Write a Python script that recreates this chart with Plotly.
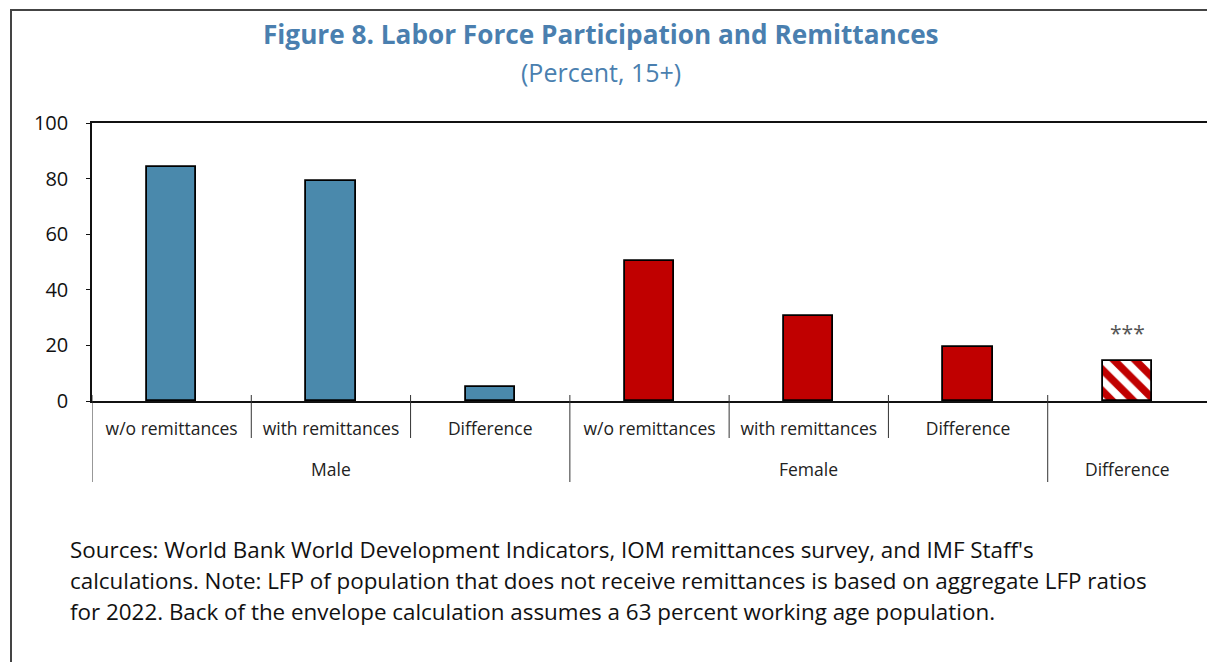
import plotly.graph_objects as go

# ---- data ----
groups = ["Male", "Male", "Male", "Female", "Female", "Female", "Difference"]
subcats = ["w/o remittances", "with remittances", "Difference",
           "w/o remittances", "with remittances", "Difference", ""]
values = [84.3, 79.2, 5.1, 50.5, 30.6, 19.5, 14.5]
group_names = ["Male", "Female", "Difference"]
y_ticks = [0, 20, 40, 60, 80, 100]
title_text = "Figure 8. Labor Force Participation and Remittances"
subtitle_text = "(Percent, 15+)"
note_lines = [
    "Sources: World Bank World Development Indicators, IOM remittances survey, and IMF Staff's",
    "calculations. Note: LFP of population that does not receive remittances is based on aggregate LFP ratios",
    "for 2022. Back of the envelope calculation assumes a 63 percent working age population.",
]
star_text = "***"

BLUE = "#4A89AC"
RED = "#C00000"
TITLE_BLUE = "#4A7FAF"
FONT = "Open Sans"

W, H = 1207, 662
L, R, T, B = 92, 0, 123, 261
pw, ph = W - L - R, H - T - B

def px_x(px):
    return (px - L) / pw

def px_y(py):
    return (H - B - py) / ph

xs = list(range(len(values)))

fig = go.Figure()
fig.add_trace(go.Bar(
    x=xs[0:3], y=values[0:3], width=0.31,
    marker=dict(color=BLUE, line=dict(color="black", width=1.8)),
    showlegend=False, hoverinfo="skip"))
fig.add_trace(go.Bar(
    x=xs[3:6], y=values[3:6], width=0.31,
    marker=dict(color=RED, line=dict(color="black", width=1.8)),
    showlegend=False, hoverinfo="skip"))
fig.add_trace(go.Bar(
    x=xs[6:7], y=values[6:7], width=0.31,
    marker=dict(color="white", line=dict(color="black", width=1.8),
                pattern=dict(shape="\\", fgcolor=RED, bgcolor="white",
                             size=15, solidity=0.5, fgopacity=1)),
    showlegend=False, hoverinfo="skip"))

shapes = []
# short dividers between sub-categories
for b in [0.5, 1.5, 3.5, 4.5]:
    shapes.append(dict(type="line", xref="x", yref="paper", x0=b, x1=b,
                       y0=px_y(395), y1=px_y(438),
                       line=dict(color="#333", width=1)))
# long dividers between groups
for b in [-0.5, 2.5, 5.5]:
    shapes.append(dict(type="line", xref="x", yref="paper", x0=b, x1=b,
                       y0=px_y(395), y1=px_y(482),
                       line=dict(color="#333", width=1)))
# outer frame (left and top)
shapes.append(dict(type="line", xref="paper", yref="paper",
                   x0=px_x(11), x1=px_x(11), y0=px_y(10), y1=px_y(662),
                   line=dict(color="#444", width=2)))
shapes.append(dict(type="line", xref="paper", yref="paper",
                   x0=px_x(10), x1=px_x(1207), y0=px_y(10), y1=px_y(10),
                   line=dict(color="#444", width=2)))

annotations = []
annotations.append(dict(text="<b>" + title_text + "</b>", xref="paper", yref="paper",
                        x=px_x(601), y=px_y(34), xanchor="center", yanchor="middle",
                        showarrow=False, font=dict(family=FONT, size=26.2, color=TITLE_BLUE)))
annotations.append(dict(text=subtitle_text, xref="paper", yref="paper",
                        x=px_x(601), y=px_y(72), xanchor="center", yanchor="middle",
                        showarrow=False, font=dict(family=FONT, size=25, color=TITLE_BLUE)))
for name, cx in zip(group_names, [1, 4, 6]):
    annotations.append(dict(text=name, xref="x", yref="paper", x=cx, y=px_y(469),
                            xanchor="center", yanchor="middle", showarrow=False,
                            font=dict(family=FONT, size=17.5, color="#222")))
annotations.append(dict(text=star_text, xref="x", yref="y", x=6, y=values[6],
                        yshift=12, xanchor="center", yanchor="bottom", showarrow=False,
                        font=dict(family=FONT, size=21, color="#555")))
for line, py in zip(note_lines, [549, 580, 611]):
    annotations.append(dict(text=line, xref="paper", yref="paper", x=px_x(68), y=px_y(py),
                            xanchor="left", yanchor="middle", showarrow=False,
                            font=dict(family=FONT, size=22.4, color="#111")))

fig.update_layout(
    width=W, height=H,
    margin=dict(l=L, r=R, t=T, b=B, pad=0),
    paper_bgcolor="white", plot_bgcolor="white",
    shapes=shapes, annotations=annotations,
    bargap=0,
    xaxis=dict(range=[-0.5, 6.5], tickmode="array", tickvals=xs, ticktext=subcats,
               showgrid=False, zeroline=False, showline=True, linecolor="#111",
               linewidth=1.5, mirror=True, ticks="", ticklabelstandoff=11,
               tickfont=dict(family=FONT, size=17.5, color="#222"), fixedrange=True),
    yaxis=dict(range=[0, 100], tickmode="array", tickvals=y_ticks,
               showgrid=False, zeroline=False, showline=True, linecolor="#111",
               linewidth=1.5, ticks="outside", ticklen=4, tickcolor="#111",
               tickfont=dict(family=FONT, size=20, color="#111"), ticklabelstandoff=14,
               fixedrange=True),
)

fig.write_html("out.html", config={"displayModeBar": False},
               post_script="document.body.style.margin='0';")
